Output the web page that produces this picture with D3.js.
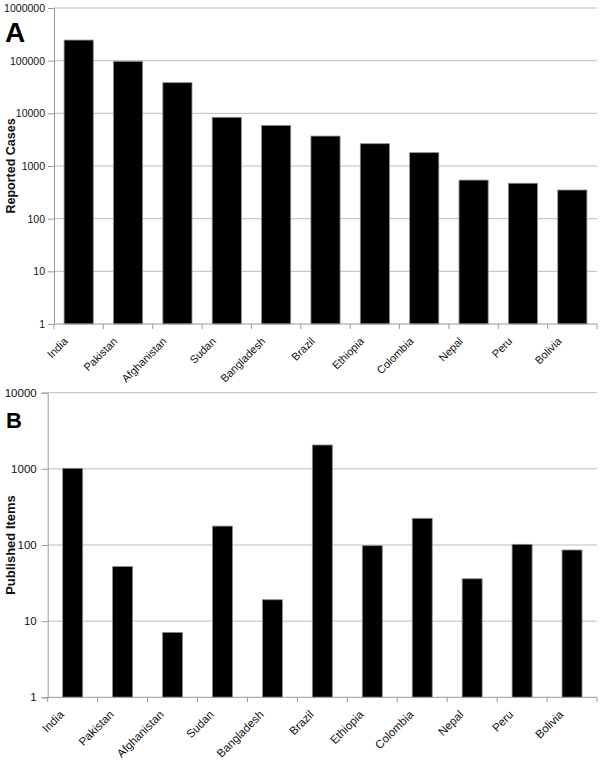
<!DOCTYPE html>
<html><head><meta charset="utf-8">
<script src="https://cdn.jsdelivr.net/npm/d3@7"></script>
<style>
html,body{margin:0;padding:0;background:#fff;}
svg{display:block;font-family:"Liberation Sans",Arial,sans-serif;}
</style></head>
<body>
<svg id="chart" width="600" height="767"></svg>
<script>
const countries = ["India","Pakistan","Afghanistan","Sudan","Bangladesh","Brazil","Ethiopia","Colombia","Nepal","Peru","Bolivia"];
const reportedCases = [246000, 97000, 38200, 8400, 5900, 3700, 2650, 1790, 540, 470, 350];
const publishedItems = [1016, 52, 7.1, 177, 19.1, 2057, 98, 224, 36, 102, 86];
const ticksA = [1, 10, 100, 1000, 10000, 100000, 1000000];
const ticksB = [1, 10, 100, 1000, 10000];

const svg = d3.select("#chart");

function panel(cfg) {
  const g = svg.append("g");
  const x = d3.scaleBand().domain(countries).range([cfg.left, cfg.right]).paddingInner(cfg.pad).paddingOuter(cfg.pad/2);
  const y = d3.scaleLog().domain([1, cfg.ticks[cfg.ticks.length-1]]).range([cfg.bottom, cfg.top]);

  // gridlines
  g.append("g").selectAll("line").data(cfg.ticks.slice(1)).join("line")
    .attr("x1", cfg.left).attr("x2", cfg.right)
    .attr("y1", d => y(d)).attr("y2", d => y(d))
    .attr("stroke", "#bdbdbd").attr("stroke-width", 1);

  // y axis
  const yAxis = d3.axisLeft(y).tickValues(cfg.ticks).tickFormat(d3.format("d")).tickSize(6).tickPadding(cfg.tickPad);
  const ya = g.append("g").attr("transform", `translate(${cfg.left},0)`).call(yAxis);
  ya.select(".domain").attr("stroke", "#999");
  ya.selectAll(".tick line").attr("stroke", "#999");
  ya.selectAll(".tick text").attr("fill", "#111").style("font-size", cfg.yFont + "px").attr("font-family", "Liberation Sans, Arial, sans-serif");

  // bars
  g.append("g").selectAll("rect").data(countries).join("rect")
    .attr("x", d => x(d))
    .attr("width", x.bandwidth())
    .attr("y", (d, i) => y(cfg.values[i]))
    .attr("height", (d, i) => cfg.bottom - y(cfg.values[i]))
    .attr("fill", "#000").attr("stroke", "#8a8a8a").attr("stroke-width", 0.8);

  // x axis line and category boundary ticks
  const step = x.step();
  const bounds = d3.range(countries.length + 1).map(i => cfg.left + i * step);
  g.append("line").attr("x1", cfg.left).attr("x2", cfg.right).attr("y1", cfg.bottom).attr("y2", cfg.bottom).attr("stroke", "#999");
  g.append("g").selectAll("line").data(bounds).join("line")
    .attr("x1", d => d).attr("x2", d => d).attr("y1", cfg.bottom).attr("y2", cfg.bottom + 5)
    .attr("stroke", "#999");

  // x labels, rotated 45 degrees
  g.append("g").selectAll("text").data(countries).join("text")
    .attr("transform", d => `translate(${x(d) + x.bandwidth()/2 + cfg.lx},${cfg.bottom + cfg.ly}) rotate(-45)`)
    .attr("text-anchor", "end")
    .attr("fill", "#111")
    .style("font-size", cfg.xFont + "px")
    .text(d => d);

  // y title
  g.append("text")
    .attr("transform", `translate(${cfg.titleX},${(cfg.top + cfg.bottom)/2}) rotate(-90)`)
    .attr("text-anchor", "middle")
    .attr("font-weight", "bold")
    .attr("fill", "#111")
    .style("font-size", cfg.titleFont + "px")
    .text(cfg.title);

  // panel letter
  g.append("text").attr("x", cfg.letterX).attr("y", cfg.letterY)
    .attr("font-weight", "bold").attr("fill", "#000")
    .style("font-size", cfg.letterFont + "px").text(cfg.letter);
}

panel({left: 54, right: 597, top: 8, bottom: 324, pad: 0.41, ticks: ticksA, values: reportedCases,
  yFont: 10.5, tickPad: 3, xFont: 11, lx: -10, ly: 18,
  title: "Reported Cases", titleX: 15, titleFont: 12.5,
  letter: "A", letterX: 5, letterY: 42, letterFont: 28});

panel({left: 47.7, right: 597, top: 392.7, bottom: 697.3, pad: 0.6, ticks: ticksB, values: publishedItems,
  yFont: 11.5, tickPad: 5, xFont: 11.5, lx: -8, ly: 18,
  title: "Published Items", titleX: 15, titleFont: 13,
  letter: "B", letterX: 6, letterY: 428, letterFont: 22});
</script>
</body></html>
